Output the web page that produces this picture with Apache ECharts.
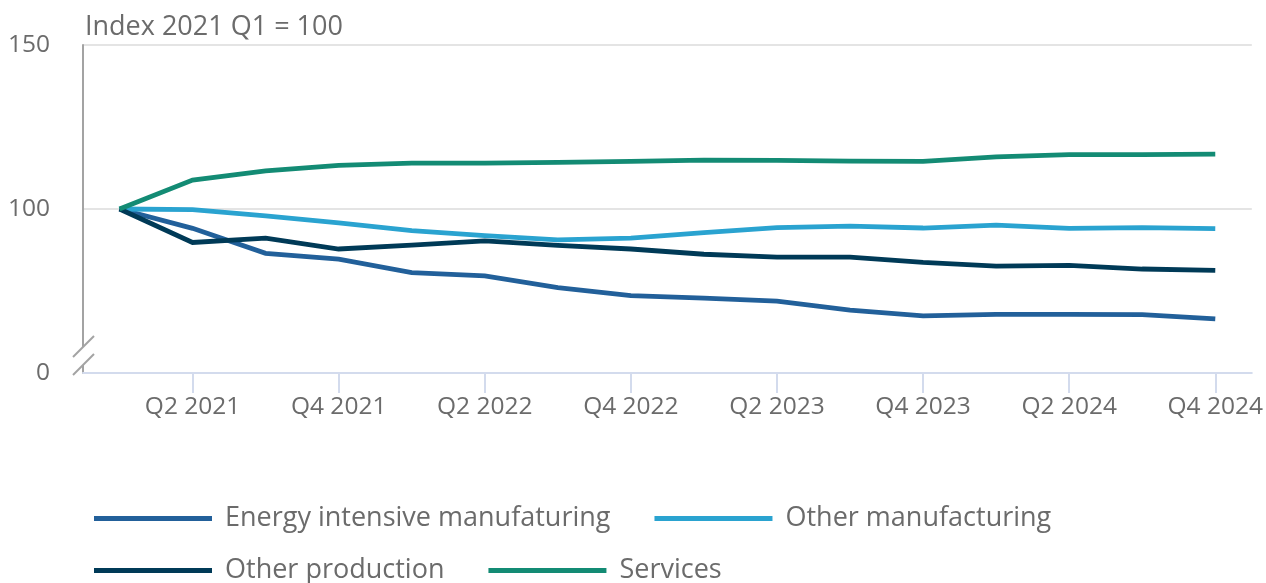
<!DOCTYPE html>
<html>
<head>
<meta charset="utf-8">
<script src="https://cdn.jsdelivr.net/npm/echarts@6/dist/echarts.min.js"></script>
<style>
html,body{margin:0;padding:0;background:#fff;}
#chart{width:1266px;height:583px;}
</style>
</head>
<body>
<div id="chart"></div>
<script>
const categories = ['Q1 2021','Q2 2021','Q3 2021','Q4 2021','Q1 2022','Q2 2022','Q3 2022','Q4 2022',
  'Q1 2023','Q2 2023','Q3 2023','Q4 2023','Q1 2024','Q2 2024','Q3 2024','Q4 2024'];
const energyIntensive = [100, 94.1, 86.5, 84.7, 80.6, 79.6, 76.0, 73.6, 72.8, 71.9, 69.2, 67.4, 67.9, 67.9, 67.8, 66.5];
const otherManufacturing = [100, 99.8, 97.9, 95.8, 93.4, 91.9, 90.6, 91.1, 92.8, 94.3, 94.8, 94.2, 95.1, 94.1, 94.3, 94.0];
const otherProduction = [100, 89.8, 91.1, 87.8, 89.0, 90.3, 88.9, 87.8, 86.2, 85.3, 85.3, 83.7, 82.6, 82.8, 81.7, 81.3];
const services = [100, 108.8, 111.6, 113.3, 114.0, 114.0, 114.2, 114.5, 114.9, 114.8, 114.6, 114.5, 115.9, 116.6, 116.6, 116.7];
const yTicks = {50: '0', 100: '100', 150: '150'};
const seriesNames = ['Energy intensive manufaturing', 'Other manufacturing', 'Other production', 'Services'];
const colors = ['#22609a', '#2aa3d0', '#003a57', '#138b74'];

const FONT = 'Open Sans';
const TXT = '#6b6b6b';
const GRID_LEFT = 83, GRID_TOP = 45, GRID_RIGHT = 14, GRID_BOTTOM = 210;

const chart = echarts.init(document.getElementById('chart'), null, {renderer: 'canvas'});

const dataSets = [energyIntensive, otherManufacturing, otherProduction, services];
const series = dataSets.map((d, i) => ({
  name: seriesNames[i],
  type: 'line',
  data: d,
  symbol: 'none',
  smooth: false,
  lineStyle: {width: 4.8, color: colors[i], cap: 'butt', join: 'miter'},
  itemStyle: {color: colors[i]},
  emphasis: {disabled: true}
}));

const legendCommon = {
  orient: 'horizontal',
  left: 94,
  padding: 0,
  icon: 'rect',
  itemWidth: 118,
  itemHeight: 5,
  itemGap: 44,
  textStyle: {fontFamily: FONT, fontSize: 27, color: TXT, padding: [0,0,0,8]},
  selectedMode: false
};

const bx = GRID_LEFT;
const by = 583 - GRID_BOTTOM;

chart.setOption({
  animation: false,
  color: colors,
  textStyle: {fontFamily: FONT},
  title: {
    text: 'Index 2021 Q1 = 100',
    left: 85, top: 14, padding: 0,
    textStyle: {fontFamily: FONT, fontSize: 27, fontWeight: 'normal', color: TXT}
  },
  legend: [
    Object.assign({}, legendCommon, {top: 505, data: seriesNames.slice(0, 2)}),
    Object.assign({}, legendCommon, {top: 557, data: seriesNames.slice(2, 4)})
  ],
  grid: {left: GRID_LEFT, right: GRID_RIGHT, top: GRID_TOP, bottom: GRID_BOTTOM, containLabel: false},
  xAxis: {
    type: 'category',
    data: categories,
    boundaryGap: true,
    axisLine: {show: true, lineStyle: {color: '#d3dbed', width: 2}},
    axisTick: {show: true, alignWithLabel: true, length: 20, interval: (i) => i % 2 === 1,
      lineStyle: {color: '#d3dbed', width: 2}},
    axisLabel: {interval: (i) => i % 2 === 1, margin: 22, fontFamily: FONT, fontSize: 24.5, color: TXT},
    splitLine: {show: false}
  },
  yAxis: {
    type: 'value',
    min: 50, max: 150, interval: 50,
    axisLine: {show: true, lineStyle: {color: '#a3a3a3', width: 2}},
    axisTick: {show: false},
    axisLabel: {margin: 33, fontFamily: FONT, fontSize: 24.5, color: TXT,
      formatter: (v) => (yTicks[v] !== undefined ? yTicks[v] : '')},
    splitLine: {show: true, lineStyle: {color: '#e4e4e4', width: 2}}
  },
  series: series,
  graphic: [
    {type: 'polygon', z: 100, shape: {points: [[bx-10, by-16], [bx+11, by-37], [bx+11, by-19], [bx-10, by+2]]},
      style: {fill: '#fff'}},
    {type: 'line', z: 101, shape: {x1: bx-10, y1: by-16, x2: bx+11, y2: by-37}, style: {stroke: '#a3a3a3', lineWidth: 2}},
    {type: 'line', z: 101, shape: {x1: bx-10, y1: by+2, x2: bx+11, y2: by-19}, style: {stroke: '#a3a3a3', lineWidth: 2}}
  ]
});
</script>
</body>
</html>
